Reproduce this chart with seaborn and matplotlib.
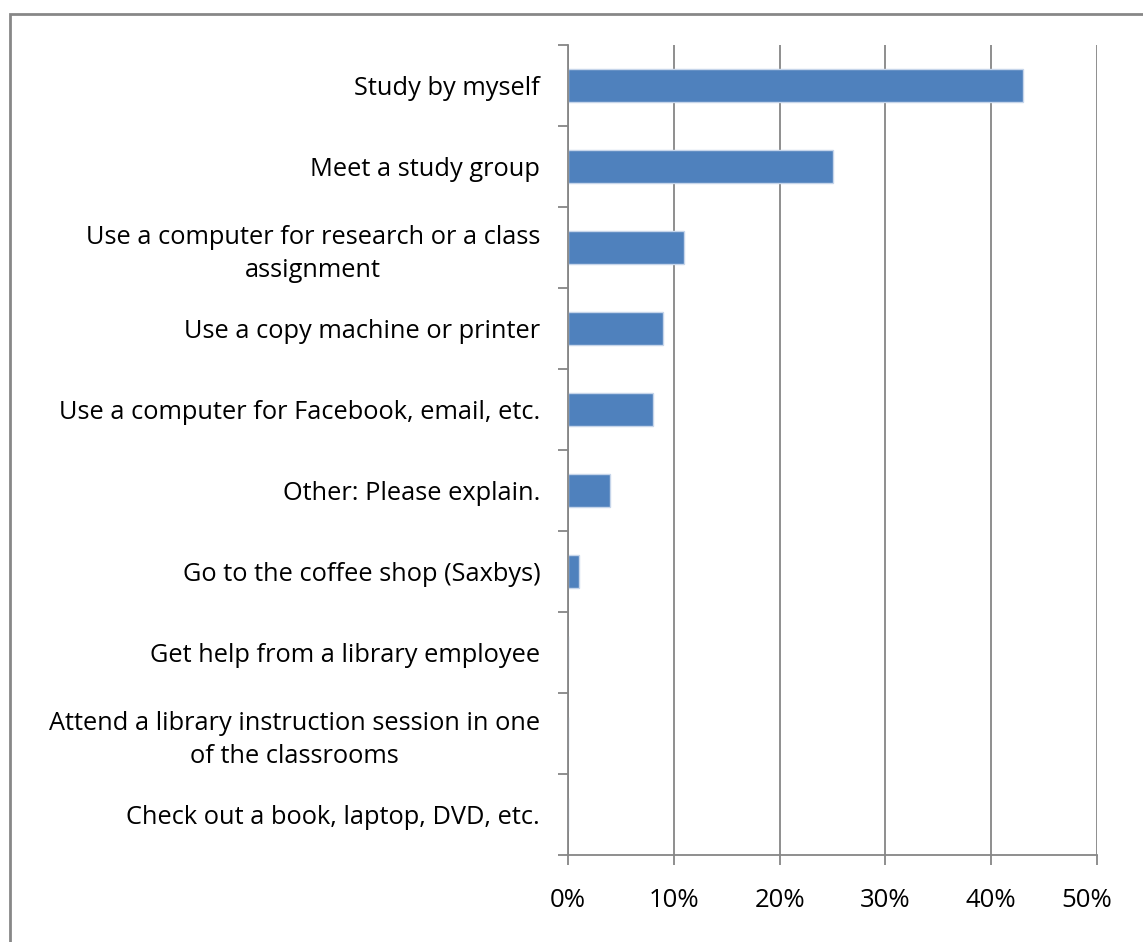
#!/usr/bin/env python3

import pandas as pd
import matplotlib
matplotlib.use("Agg")
import matplotlib.pyplot as plt
import matplotlib.transforms as mtransforms
import seaborn as sns
from matplotlib.patches import Rectangle
from matplotlib.ticker import FixedLocator, PercentFormatter

# Survey answers (top to bottom) and share of respondents in percent
activities = [
    "Study by myself",
    "Meet a study group",
    "Use a computer for research or a class\nassignment",
    "Use a copy machine or printer",
    "Use a computer for Facebook, email, etc.",
    "Other: Please explain.",
    "Go to the coffee shop (Saxbys)",
    "Get help from a library employee",
    "Attend a library instruction session in one\nof the classrooms",
    "Check out a book, laptop, DVD, etc.",
]
shares = [43, 25, 11, 9, 8, 4, 1, 0, 0, 0]
x_ticks = [0, 10, 20, 30, 40, 50]

df = pd.DataFrame({"Activity": activities, "Share": shares})

sns.set_style("white")
plt.rcParams["font.family"] = ["Open Sans", "DejaVu Sans"]

grid_color = "#868686"

fig = plt.figure(figsize=(11.43, 9.42), dpi=100)
ax = fig.add_axes([568 / 1143, 1 - 855 / 942, (1097 - 568) / 1143, (855 - 45) / 942])

sns.barplot(data=df, x="Share", y="Activity", color="#4F81BD", width=0.4,
            edgecolor="#C6D5EA", linewidth=1, saturation=1, ax=ax)

ax.set_xlim(0, 50)
ax.set_ylim(len(activities) - 0.5, -0.5)
ax.xaxis.set_major_locator(FixedLocator(x_ticks))
ax.xaxis.set_major_formatter(PercentFormatter(decimals=0))
ax.grid(axis="x", color=grid_color, linewidth=1.3)
ax.set_axisbelow(True)

# category boundary ticks on the left, labels between them
ax.yaxis.set_minor_locator(FixedLocator([i - 0.5 for i in range(len(activities) + 1)]))
ax.tick_params(axis="y", which="major", length=0, pad=20, labelsize=18.3, colors="black")
ax.tick_params(axis="y", which="minor", direction="out", length=7, width=1.3,
               color=grid_color, left=True)
ax.tick_params(axis="x", which="major", direction="out", length=7, width=1.3,
               color=grid_color, pad=17, labelsize=18.5, colors="black", bottom=True)
ax.tick_params(axis="x", which="major", color=grid_color)
for lbl in ax.get_yticklabels():
    lbl.set_multialignment("center")
    lbl.set_linespacing(1.42)

# the last percent label is pulled in from the right edge, as in the original
fig.canvas.draw()
last = ax.get_xticklabels()[-1]
last.set_transform(last.get_transform() +
                   mtransforms.ScaledTranslation(-10 / 100, 0, fig.dpi_scale_trans))

for side in ["top", "right"]:
    ax.spines[side].set_visible(False)
for side in ["left", "bottom"]:
    ax.spines[side].set_color(grid_color)
    ax.spines[side].set_linewidth(1.3)

ax.set_xlabel("")
ax.set_ylabel("")

# outer chart frame (only left and top edges fall inside the picture)
fig.patches.append(Rectangle((9.5 / 1143, -0.1), 1.2, 1 - 13.5 / 942 + 0.1,
                             transform=fig.transFigure, fill=False,
                             edgecolor="#878787", linewidth=2, clip_on=False))

fig.savefig("out.png", dpi=100, facecolor="white")
